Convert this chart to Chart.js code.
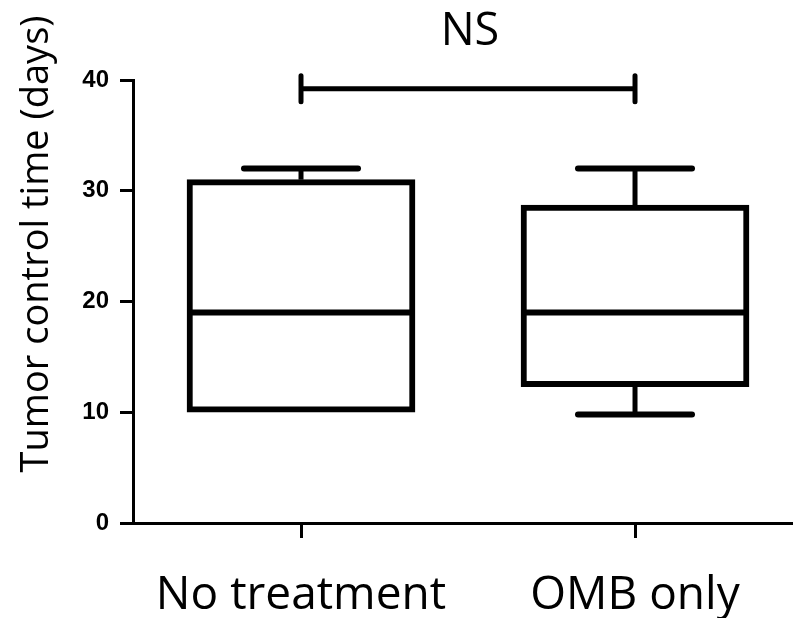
<!DOCTYPE html>
<html>
<head>
<meta charset="utf-8">
<script src="https://cdn.jsdelivr.net/npm/chart.js@4/dist/chart.umd.min.js"></script>
<style>
  html, body { margin: 0; padding: 0; background: #fff; }
</style>
</head>
<body>
<canvas id="boxChart" width="793" height="618"></canvas>
<script>
const groups = ["No treatment", "OMB only"];
const whiskerMin = [10, 9.8];
const q1 = [10, 12.3];
const median = [19, 19];
const q3 = [31, 28.7];
const whiskerMax = [32, 32];
const yTicks = [0, 10, 20, 30, 40];
const sigLabel = "NS";
const sigLevel = 39.2;
const yTitle = "Tumor control time (days)";

const ink = "#000";

/* ---------- whiskers, medians, bracket, y title ---------- */
const boxExtras = {
  id: "boxExtras",
  afterDatasetsDraw(chart) {
    const { ctx, scales: { x, y } } = chart;
    const bars = chart.getDatasetMeta(0).data;
    ctx.save();
    ctx.strokeStyle = ink;

    bars.forEach((bar, i) => {
      const cx = bar.x;
      const half = bar.width / 2;
      // median
      ctx.lineWidth = 6;
      ctx.lineCap = "butt";
      ctx.beginPath();
      ctx.moveTo(cx - half, y.getPixelForValue(median[i]));
      ctx.lineTo(cx + half, y.getPixelForValue(median[i]));
      ctx.stroke();

      // whiskers
      const capHalf = bar.width * 0.25;
      [[q3[i], whiskerMax[i]], [q1[i], whiskerMin[i]]].forEach(([from, to]) => {
        if (Math.abs(from - to) < 0.3) return;
        ctx.lineWidth = 5;
        ctx.lineCap = "butt";
        ctx.beginPath();
        ctx.moveTo(cx, y.getPixelForValue(from));
        ctx.lineTo(cx, y.getPixelForValue(to));
        ctx.stroke();
        ctx.lineWidth = 6;
        ctx.lineCap = "round";
        ctx.beginPath();
        ctx.moveTo(cx - capHalf, y.getPixelForValue(to));
        ctx.lineTo(cx + capHalf, y.getPixelForValue(to));
        ctx.stroke();
      });
    });

    // significance bracket
    const x1 = x.getPixelForValue(1);
    const x2 = x.getPixelForValue(2);
    const yb = y.getPixelForValue(sigLevel);
    ctx.lineWidth = 5;
    ctx.lineCap = "round";
    ctx.beginPath();
    ctx.moveTo(x1, yb); ctx.lineTo(x2, yb);
    ctx.moveTo(x1, yb - 13); ctx.lineTo(x1, yb + 13);
    ctx.moveTo(x2, yb - 13); ctx.lineTo(x2, yb + 13);
    ctx.stroke();

    ctx.fillStyle = ink;
    ctx.font = "45px 'Open Sans'";
    ctx.textAlign = "center";
    ctx.textBaseline = "alphabetic";
    ctx.fillText(sigLabel, (x1 + x2) / 2 + 2, 45);

    // y axis title
    ctx.font = "38px 'Open Sans'";
    ctx.translate(48, 244);
    ctx.rotate(-Math.PI / 2);
    ctx.fillText(yTitle, 0, 0);
    ctx.restore();
  }
};

const chart = new Chart(document.getElementById("boxChart"), {
  type: "bar",
  data: {
    datasets: [{
      data: groups.map((g, i) => ({ x: i + 1, y: [q1[i], q3[i]] })),
      backgroundColor: "#fff",
      borderColor: ink,
      borderWidth: 6,
      borderSkipped: false,
      barThickness: 228
    }]
  },
  options: {
    responsive: false,
    animation: false,
    devicePixelRatio: 1,
    layout: { padding: { top: 80, right: 0, bottom: 0, left: 0 } },
    plugins: { legend: { display: false }, tooltip: { enabled: false } },
    scales: {
      x: {
        type: "linear",
        offset: false,
        min: 0.497,
        max: 2.473,
        afterBuildTicks: s => { s.ticks = groups.map((g, i) => ({ value: i + 1 })); },
        afterFit: s => { s.height = 618 - 523; },
        ticks: {
          callback: v => groups[v - 1],
          autoSkip: false,
          maxRotation: 0,
          color: ink,
          padding: 30,
          font: { family: "'Open Sans'", size: 46 }
        },
        grid: { offset: false, drawOnChartArea: false, tickLength: 15, lineWidth: 3, color: ink },
        border: { display: true, width: 3, color: ink }
      },
      y: {
        min: 0,
        max: 40,
        afterBuildTicks: s => { s.ticks = yTicks.map(v => ({ value: v })); },
        afterFit: s => { s.width = 133; },
        ticks: {
          color: ink,
          padding: 11,
          font: { family: "'Liberation Sans'", size: 24, weight: "bold" }
        },
        grid: { drawOnChartArea: false, tickLength: 13, lineWidth: 3, color: ink },
        border: { display: true, width: 3, color: ink }
      }
    }
  },
  plugins: [boxExtras]
});
</script>
</body>
</html>
